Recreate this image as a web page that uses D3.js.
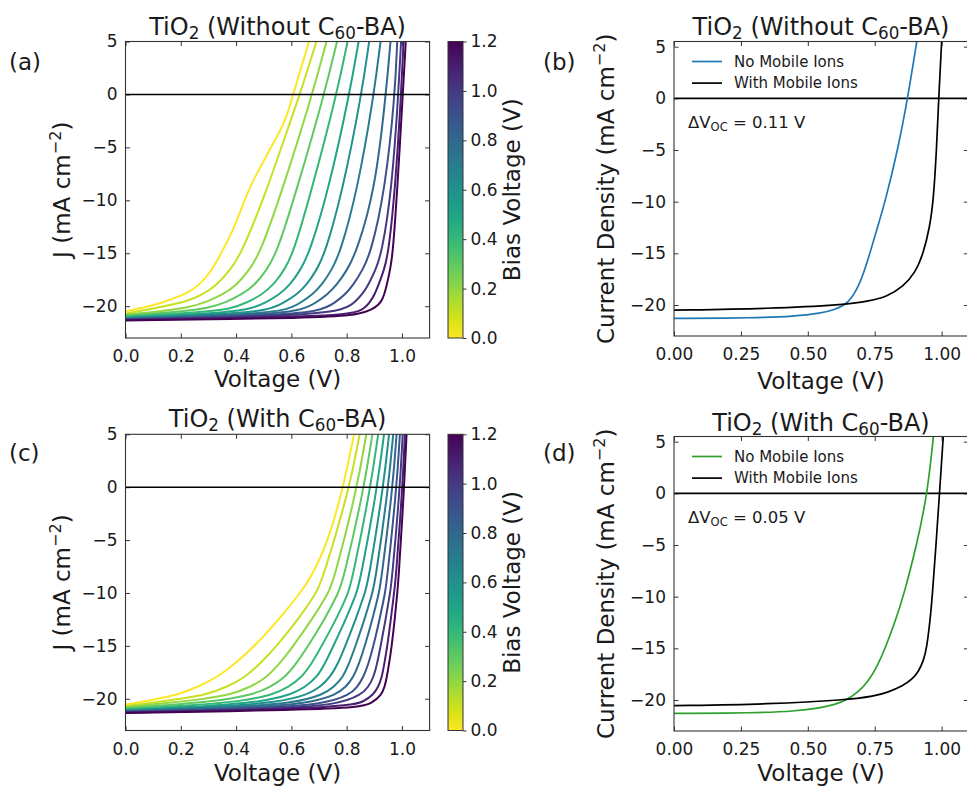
<!DOCTYPE html>
<html>
<head>
<meta charset="utf-8">
<script src="https://cdn.jsdelivr.net/npm/d3@7"></script>
<style>
  body { margin: 0; background: #fff; }
  svg { display: block; }
  text { font-family: "DejaVu Sans", sans-serif; fill: #1a1a1a; }
</style>
</head>
<body>
<svg id="fig" width="967" height="786"></svg>
<script>
// ---- data -------------------------------------------------------------
// Bias (pre-conditioning) voltage of each simulated J–V sweep
const biasLevels = [0.0, 0.1, 0.2, 0.3, 0.4, 0.5, 0.6, 0.7, 0.8, 0.9, 1.0, 1.1, 1.2];
const colorbarTicks = [0.0, 0.2, 0.4, 0.6, 0.8, 1.0, 1.2];
const voltageTicksFine = [0.0, 0.2, 0.4, 0.6, 0.8, 1.0];
const voltageTicksCoarse = [0.0, 0.25, 0.5, 0.75, 1.0];
const currentTicks = [-20, -15, -10, -5, 0, 5];

// [V, J] points, one list per bias level — TiO2 without C60-BA
const jvWithout = [
  [[0,-20.5],[0.07,-20.1],[0.13,-19.7],[0.19,-19.1],[0.235,-18.6],[0.27,-17.9],[0.31,-16.7],[0.342,-15.2],[0.39,-12.8],[0.426,-10.3],[0.458,-8.3],[0.495,-6.5],[0.535,-4.6],[0.558,-3.5],[0.576,-2.5],[0.59,-1.5],[0.606,0],[0.665,5.1]],
  [[0,-20.7],[0.101,-20.2],[0.221,-19.6],[0.28,-18.9],[0.330,-18],[0.378,-16.6],[0.420,-15],[0.511,-9.06],[0.57,-4.5],[0.631,0],[0.692,5.1]],
  [[0,-20.8],[0.15,-20.4],[0.23,-20.1],[0.294,-19.6],[0.352,-18.9],[0.402,-18],[0.447,-16.6],[0.487,-15],[0.567,-9.06],[0.676,0],[0.728,5.1]],
  [[0,-20.9],[0.2,-20.5],[0.30,-20.2],[0.366,-19.6],[0.42,-18.9],[0.468,-18],[0.51,-16.6],[0.547,-15],[0.619,-9.06],[0.719,0],[0.766,5.1]],
  [[0,-21.0],[0.25,-20.6],[0.38,-20.3],[0.444,-19.6],[0.493,-18.9],[0.535,-18],[0.574,-16.6],[0.607,-15],[0.673,-9.06],[0.764,0],[0.804,5.1]],
  [[0,-21.1],[0.3,-20.7],[0.45,-20.35],[0.511,-19.6],[0.556,-18.9],[0.595,-18],[0.632,-16.6],[0.665,-15],[0.734,-9.06],[0.810,0],[0.844,5.1]],
  [[0,-21.1],[0.35,-20.75],[0.52,-20.4],[0.577,-19.6],[0.619,-18.9],[0.655,-18],[0.691,-16.6],[0.722,-15],[0.786,-9.06],[0.854,0],[0.882,5.1]],
  [[0,-21.2],[0.4,-20.8],[0.585,-20.45],[0.637,-19.6],[0.676,-18.9],[0.710,-18],[0.745,-16.6],[0.776,-15],[0.839,-9.06],[0.899,0],[0.923,5.1]],
  [[0,-21.2],[0.45,-20.85],[0.64,-20.45],[0.692,-19.6],[0.73,-18.9],[0.764,-18],[0.801,-16.6],[0.834,-15],[0.903,-9.06],[0.942,0],[0.959,5.1]],
  [[0,-21.25],[0.5,-20.9],[0.71,-20.5],[0.76,-19.6],[0.794,-18.9],[0.824,-18],[0.857,-16.6],[0.887,-15],[0.939,-9.06],[0.975,0],[0.983,5.1]],
  [[0,-21.3],[0.55,-20.95],[0.79,-20.5],[0.83,-19.6],[0.856,-18.9],[0.878,-18],[0.904,-16.6],[0.927,-15],[0.963,-9.06],[0.987,0],[0.997,5.1]],
  [[0,-21.3],[0.6,-21.0],[0.76,-20.85],[0.855,-20.55],[0.885,-19.6],[0.901,-18.9],[0.915,-18],[0.935,-16.6],[0.951,-15],[0.975,-9.06],[0.997,0],[1.006,5.1]],
  [[0,-21.35],[0.7,-21.1],[0.82,-20.85],[0.875,-20.5],[0.905,-20.1],[0.925,-19.6],[0.936,-18.9],[0.945,-18],[0.957,-16.6],[0.967,-15],[0.983,-9.06],[1.003,0],[1.014,5.1]]
];

// [V, J] points, one list per bias level — TiO2 with C60-BA
const jvWith = [
  [[0,-20.55],[0.1,-20.1],[0.191,-19.6],[0.26,-18.9],[0.330,-18],[0.40,-16.6],[0.468,-15],[0.555,-12.5],[0.632,-10],[0.672,-8.5],[0.734,-5.05],[0.788,0],[0.828,5.19]],
  [[0,-20.7],[0.1,-20.35],[0.2,-20.0],[0.294,-19.6],[0.365,-18.9],[0.432,-18],[0.49,-16.6],[0.547,-15],[0.625,-12.5],[0.69,-10],[0.710,-8.96],[0.812,0],[0.848,5.19]],
  [[0,-20.8],[0.15,-20.4],[0.28,-20.05],[0.384,-19.6],[0.45,-18.9],[0.511,-18],[0.56,-16.6],[0.607,-15],[0.675,-12.5],[0.734,-10],[0.752,-8.96],[0.839,0],[0.872,5.19]],
  [[0,-20.9],[0.2,-20.5],[0.35,-20.15],[0.462,-19.6],[0.522,-18.9],[0.577,-18],[0.62,-16.6],[0.661,-15],[0.72,-12.5],[0.770,-10],[0.786,-8.96],[0.864,0],[0.894,5.19]],
  [[0,-21.0],[0.25,-20.6],[0.42,-20.25],[0.535,-19.6],[0.588,-18.9],[0.637,-18],[0.675,-16.6],[0.710,-15],[0.762,-12.5],[0.806,-10],[0.818,-8.96],[0.887,0],[0.915,5.19]],
  [[0,-21.1],[0.3,-20.7],[0.49,-20.3],[0.601,-19.6],[0.649,-18.9],[0.692,-18],[0.723,-16.6],[0.752,-15],[0.797,-12.5],[0.836,-10],[0.848,-8.96],[0.911,0],[0.936,5.19]],
  [[0,-21.1],[0.35,-20.75],[0.55,-20.35],[0.661,-19.6],[0.703,-18.9],[0.740,-18],[0.77,-16.6],[0.795,-15],[0.833,-12.5],[0.866,-10],[0.878,-8.96],[0.933,0],[0.954,5.19]],
  [[0,-21.2],[0.4,-20.8],[0.61,-20.4],[0.716,-19.6],[0.753,-18.9],[0.786,-18],[0.81,-16.6],[0.832,-15],[0.865,-12.5],[0.893,-10],[0.903,-8.96],[0.951,0],[0.969,5.19]],
  [[0,-21.2],[0.45,-20.85],[0.66,-20.45],[0.764,-19.6],[0.796,-18.9],[0.824,-18],[0.846,-16.6],[0.866,-15],[0.893,-12.5],[0.917,-10],[0.924,-8.96],[0.967,0],[0.981,5.19]],
  [[0,-21.25],[0.5,-20.9],[0.72,-20.5],[0.812,-19.6],[0.838,-18.9],[0.860,-18],[0.88,-16.6],[0.897,-15],[0.919,-12.5],[0.939,-10],[0.945,-8.96],[0.981,0],[0.993,5.19]],
  [[0,-21.3],[0.55,-20.95],[0.77,-20.55],[0.854,-19.6],[0.878,-18.9],[0.897,-18],[0.911,-16.6],[0.923,-15],[0.941,-12.5],[0.957,-10],[0.963,-8.96],[0.993,0],[1.003,5.19]],
  [[0,-21.3],[0.6,-21.0],[0.82,-20.6],[0.86,-20.3],[0.897,-19.6],[0.914,-18.9],[0.927,-18],[0.937,-16.6],[0.947,-15],[0.96,-12.5],[0.971,-10],[0.977,-8.96],[1.002,0],[1.011,5.19]],
  [[0,-21.35],[0.65,-21.05],[0.848,-20.8],[0.89,-20.45],[0.927,-19.6],[0.937,-18.9],[0.945,-18],[0.954,-16.6],[0.963,-15],[0.974,-12.5],[0.983,-10],[0.987,-8.96],[1.008,0],[1.017,5.19]]
];

// Mobile-ion comparison curves
const noIonsWithout   = [[0,-21.3],[0.3,-21.25],[0.45,-21.1],[0.55,-20.8],[0.6,-20.45],[0.639,-20.0],[0.665,-19.3],[0.689,-18.2],[0.71,-16.8],[0.732,-15],[0.76,-12.5],[0.789,-10],[0.836,-5],[0.873,0],[0.907,5.47]];
const withIonsWithout = [[0,-20.5],[0.359,-20.35],[0.633,-20.0],[0.732,-19.6],[0.795,-19.2],[0.857,-18.2],[0.901,-16.9],[0.932,-15],[0.955,-12.5],[0.969,-10],[0.981,-5],[0.989,0],[1.0,5.47]];
const noIonsWith      = [[0,-21.3],[0.3,-21.25],[0.45,-21.1],[0.55,-20.75],[0.6,-20.45],[0.645,-20.0],[0.69,-19.2],[0.726,-18.2],[0.76,-16.7],[0.789,-15],[0.825,-12.5],[0.857,-10],[0.907,-5],[0.947,0],[0.969,5.47]];
const withIonsWith    = [[0,-20.55],[0.359,-20.4],[0.645,-20.0],[0.75,-19.6],[0.795,-19.3],[0.857,-18.6],[0.89,-18.0],[0.915,-17.2],[0.932,-16.2],[0.944,-15],[0.956,-12.5],[0.965,-10],[0.979,-5],[0.992,0],[1.006,5.47]];

const deltaVoc = ["0.11", "0.05"];

// ---- drawing -----------------------------------------------------------
const svg = d3.select("#fig");
const FONT_TICK = 17, FONT_LABEL = 23, FONT_TITLE = 24;
const SPINE = "#333";

// text with sub/superscript pieces: parts = [[string, "sub"|"sup"|null], ...]
function richText(sel, parts, size) {
  let shift = 0;
  parts.forEach(([str, kind]) => {
    const t = sel.append("tspan").text(str);
    let target = 0;
    if (kind === "sub") { target = size * 0.16; t.attr("font-size", size * 0.7); }
    else if (kind === "sup") { target = -size * 0.4; t.attr("font-size", size * 0.7); }
    if (target !== shift) { t.attr("dy", target - shift); shift = target; }
  });
  return sel;
}

function makeAxes(cfg) {
  const g = svg.append("g");
  const x = d3.scaleLinear().domain(cfg.xDomain).range([cfg.left, cfg.right]);
  const y = d3.scaleLinear().domain(cfg.yDomain).range([cfg.bottom, cfg.top]);
  const id = "clip" + cfg.id;
  svg.append("clipPath").attr("id", id).append("rect")
    .attr("x", cfg.left).attr("y", cfg.top)
    .attr("width", cfg.right - cfg.left).attr("height", cfg.bottom - cfg.top);

  const styleAxis = s => {
    s.select(".domain").remove();
    s.selectAll(".tick line").attr("stroke", SPINE).attr("stroke-width", 1);
    s.selectAll(".tick text").attr("font-size", FONT_TICK).attr("fill", "#1a1a1a")
      .attr("font-family", "DejaVu Sans, sans-serif");
  };
  g.append("g").attr("transform", `translate(0,${cfg.bottom})`)
    .call(d3.axisBottom(x).tickValues(cfg.xTicks).tickFormat(d3.format(cfg.xFmt))
      .tickSizeInner(-4.5).tickSizeOuter(0).tickPadding(12)).call(styleAxis);
  g.append("g").attr("transform", `translate(0,${cfg.top})`)
    .call(d3.axisTop(x).tickValues(cfg.xTicks).tickFormat("")
      .tickSizeInner(-4.5).tickSizeOuter(0)).call(styleAxis);
  g.append("g").attr("transform", `translate(${cfg.left},0)`)
    .call(d3.axisLeft(y).tickValues(currentTicks).tickFormat(d3.format("d"))
      .tickSizeInner(-4.5).tickSizeOuter(0).tickPadding(8)).call(styleAxis);
  g.append("g").attr("transform", `translate(${cfg.right},0)`)
    .call(d3.axisRight(y).tickValues(currentTicks).tickFormat("")
      .tickSizeInner(-4.5).tickSizeOuter(0)).call(styleAxis);

  const plot = g.append("g").attr("clip-path", `url(#${id})`);

  // frame
  g.append("rect").attr("x", cfg.left).attr("y", cfg.top)
    .attr("width", cfg.right - cfg.left).attr("height", cfg.bottom - cfg.top)
    .attr("fill", "none").attr("stroke", SPINE).attr("stroke-width", 1.1);

  // title
  const cx = (cfg.left + Math.min(cfg.right, 968)) / 2;
  richText(g.append("text").attr("x", cx).attr("y", cfg.titleY)
    .attr("text-anchor", "middle").attr("font-size", FONT_TITLE), cfg.title, FONT_TITLE);

  // x label
  g.append("text").attr("x", cx).attr("y", cfg.xLabelY).attr("text-anchor", "middle")
    .attr("font-size", FONT_LABEL).text("Voltage (V)");

  // y label
  richText(g.append("text")
    .attr("transform", `translate(${cfg.yLabelX},${(cfg.top + cfg.bottom) / 2}) rotate(-90)`)
    .attr("dy", "0.35em").attr("text-anchor", "middle").attr("font-size", FONT_LABEL),
    cfg.yLabel, FONT_LABEL);

  // panel tag
  g.append("text").attr("x", cfg.tagX).attr("y", cfg.tagY).attr("font-size", 23).text(cfg.tag);

  return { g, plot, x, y };
}

function zeroLine(ax) {
  ax.plot.append("line")
    .attr("x1", ax.x.range()[0]).attr("x2", ax.x.range()[1])
    .attr("y1", ax.y(0)).attr("y2", ax.y(0))
    .attr("stroke", "#000").attr("stroke-width", 1.6);
}

// B-spline through the sampled points gives the smooth knees of the sweeps
const lineGen = ax => d3.line().x(d => ax.x(d[0])).y(d => ax.y(d[1])).curve(d3.curveBasis);
const biasColor = b => d3.interpolateViridis(1 - b / 1.2);

function biasPanel(cfg, curves) {
  const ax = makeAxes(cfg);
  curves.forEach((pts, i) => {
    ax.plot.append("path").datum(pts).attr("d", lineGen(ax))
      .attr("fill", "none").attr("stroke", biasColor(biasLevels[i])).attr("stroke-width", 2);
  });
  zeroLine(ax);

  // colour bar
  const cbX = 448, cbW = 15;
  const cb = d3.scaleLinear().domain([0, 1.2]).range([cfg.bottom, cfg.top]);
  const gradId = "grad" + cfg.id;
  const grad = svg.append("defs").append("linearGradient").attr("id", gradId)
    .attr("x1", 0).attr("y1", 1).attr("x2", 0).attr("y2", 0);
  d3.range(0, 1.0001, 0.05).forEach(t => {
    grad.append("stop").attr("offset", t).attr("stop-color", biasColor(t * 1.2));
  });
  const cg = svg.append("g");
  cg.append("rect").attr("x", cbX).attr("y", cfg.top).attr("width", cbW)
    .attr("height", cfg.bottom - cfg.top).attr("fill", `url(#${gradId})`)
    .attr("stroke", SPINE).attr("stroke-width", 1);
  cg.append("g").attr("transform", `translate(${cbX + cbW},0)`)
    .call(d3.axisRight(cb).tickValues(colorbarTicks).tickFormat(d3.format(".1f"))
      .tickSizeInner(3.5).tickSizeOuter(0).tickPadding(4))
    .call(s => {
      s.select(".domain").remove();
      s.selectAll(".tick line").attr("stroke", SPINE);
      s.selectAll(".tick text").attr("font-size", FONT_TICK).attr("fill", "#1a1a1a")
        .attr("font-family", "DejaVu Sans, sans-serif");
    });
  cg.append("text")
    .attr("transform", `translate(512,${(cfg.top + cfg.bottom) / 2}) rotate(-90)`)
    .attr("dy", "0.35em").attr("text-anchor", "middle").attr("font-size", FONT_LABEL)
    .text("Bias Voltage (V)");
}

function ionPanel(cfg, noIons, withIons, colour, dv) {
  const ax = makeAxes(cfg);
  zeroLine(ax);
  const lg = lineGen(ax);
  ax.plot.append("path").datum(noIons).attr("d", lg).attr("fill", "none")
    .attr("stroke", colour).attr("stroke-width", 1.7);
  ax.plot.append("path").datum(withIons).attr("d", lg).attr("fill", "none")
    .attr("stroke", "#000").attr("stroke-width", 1.7);

  // legend
  const entries = [["No Mobile Ions", colour], ["With Mobile Ions", "#000"]];
  entries.forEach(([label, c], i) => {
    const yy = cfg.top + 20 + i * 21.6;
    ax.g.append("line").attr("x1", cfg.left + 18).attr("x2", cfg.left + 48)
      .attr("y1", yy).attr("y2", yy).attr("stroke", c).attr("stroke-width", 1.7);
    ax.g.append("text").attr("x", cfg.left + 60).attr("y", yy).attr("dy", "0.35em")
      .attr("font-size", 15).text(label);
  });

  // ΔVoc annotation
  richText(ax.g.append("text").attr("x", cfg.left + 14).attr("y", cfg.top + 86.5)
    .attr("font-size", 16.5), [["ΔV", null], ["OC", "sub"], [` = ${dv} V`, null]], 16.5);
}

const jLabel = [["J (mA cm", null], ["−2", "sup"], [")", null]];
const cdLabel = [["Current Density (mA cm", null], ["−2", "sup"], [")", null]];
const titleWithout = [["TiO", null], ["2", "sub"], [" (Without C", null], ["60", "sub"], ["-BA)", null]];
const titleWith = [["TiO", null], ["2", "sub"], [" (With C", null], ["60", "sub"], ["-BA)", null]];

biasPanel({
  id: "a", left: 125.5, right: 429.6, top: 41.5, bottom: 338,
  xDomain: [0, 1.1], yDomain: [-23, 5], xTicks: voltageTicksFine, xFmt: ".1f",
  title: titleWithout, titleY: 35, xLabelY: 387, yLabel: jLabel, yLabelX: 62,
  tag: "(a)", tagX: 9, tagY: 70
}, jvWithout);

ionPanel({
  id: "b", left: 674, right: 968.4, top: 41.5, bottom: 336,
  xDomain: [0, 1.1], yDomain: [-23, 5.5], xTicks: voltageTicksCoarse, xFmt: ".2f",
  title: titleWithout, titleY: 35, xLabelY: 389, yLabel: cdLabel, yLabelX: 606,
  tag: "(b)", tagX: 543, tagY: 70
}, noIonsWithout, withIonsWithout, "#1f77b4", deltaVoc[0]);

biasPanel({
  id: "c", left: 125.5, right: 429.6, top: 434.3, bottom: 730.5,
  xDomain: [0, 1.1], yDomain: [-23, 5], xTicks: voltageTicksFine, xFmt: ".1f",
  title: titleWith, titleY: 427, xLabelY: 781, yLabel: jLabel, yLabelX: 62,
  tag: "(c)", tagX: 9, tagY: 461
}, jvWith);

ionPanel({
  id: "d", left: 674, right: 968.4, top: 436.5, bottom: 731,
  xDomain: [0, 1.1], yDomain: [-23, 5.5], xTicks: voltageTicksCoarse, xFmt: ".2f",
  title: titleWith, titleY: 431, xLabelY: 781, yLabel: cdLabel, yLabelX: 606,
  tag: "(d)", tagX: 543, tagY: 461
}, noIonsWith, withIonsWith, "#2ca02c", deltaVoc[1]);
</script>
</body>
</html>
